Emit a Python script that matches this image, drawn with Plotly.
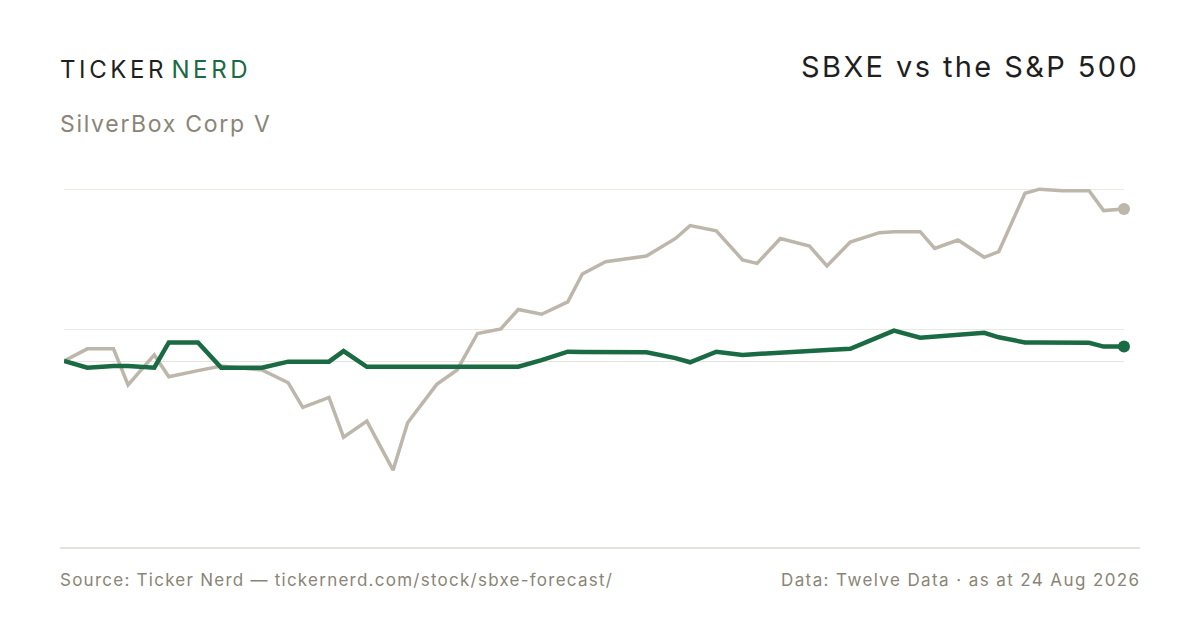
import pandas as pd
import plotly.graph_objects as go

day_offsets = [0, 8, 17, 22, 31, 36, 46, 54, 68, 77, 82, 91, 96, 104, 113, 118,
               128, 135, 142, 150, 156, 164, 173, 178, 186, 200, 210, 215, 224,
               233, 238, 246, 256, 262, 270, 280, 285, 294, 299, 307, 316, 321,
               330, 335, 343, 352, 357, 364]
start_date = "2025-08-25"

# % change since start
sbxe = [0.0, -2.1, -1.6, -1.6, -2.1, 5.8, 5.8, -2.1, -2.1, -0.2, -0.2, -0.2,
        3.1, -1.8, -1.8, -1.8, -1.8, -1.8, -1.8, -1.8, -1.8, 0.3, 2.9, 2.8,
        2.8, 2.7, 0.9, -0.4, 2.9, 1.9, 2.2, 2.5, 2.9, 3.4, 3.8, 7.8, 9.5, 7.3,
        7.6, 8.3, 8.8, 7.4, 5.8, 5.8, 5.8, 5.7, 4.5, 4.5]
spx = [0.0, 3.8, 3.8, -7.5, 1.9, -4.9, -3.0, -1.6, -2.8, -6.8, -14.5, -11.4,
       -23.8, -18.8, -34.1, -19.3, -7.3, -2.8, 8.6, 10.0, 16.1, 14.6, 18.5,
       27.2, 31.0, 32.8, 38.3, 42.3, 40.7, 31.6, 30.5, 38.3, 35.9, 29.7, 37.2,
       40.1, 40.4, 40.4, 35.2, 37.8, 32.4, 34.2, 52.4, 53.7, 53.2, 53.2, 47.0,
       47.5]

tick_vals = [10, 53.75]

GREEN = "#1a6a43"
GREY_LINE = "#bdb6aa"
TEXT_GREY = "#8a8577"
DARK = "#1f1f1f"
FONT = "Inter, Roboto, sans-serif"

dates = pd.Timestamp(start_date) + pd.to_timedelta(day_offsets, unit="D")

fig = go.Figure()
fig.add_trace(go.Scatter(x=dates, y=spx, mode="lines", name="S&P 500",
                         line=dict(color=GREY_LINE, width=3.5), hoverinfo="skip"))
fig.add_trace(go.Scatter(x=[dates[-1]], y=[spx[-1]], mode="markers", cliponaxis=False,
                         marker=dict(color=GREY_LINE, size=12), hoverinfo="skip"))
fig.add_trace(go.Scatter(x=dates, y=sbxe, mode="lines", name="SBXE",
                         line=dict(color=GREEN, width=4.5), hoverinfo="skip"))
fig.add_trace(go.Scatter(x=[dates[-1]], y=[sbxe[-1]], mode="markers", cliponaxis=False,
                         marker=dict(color=GREEN, size=12), hoverinfo="skip"))

fig.update_layout(
    width=1200, height=630,
    paper_bgcolor="white", plot_bgcolor="white",
    margin=dict(l=56, r=84, t=172, b=90),
    showlegend=False,
    font=dict(family=FONT),
    xaxis=dict(range=[dates[0], dates[-1]], showgrid=False, zeroline=False,
               showticklabels=False, showline=False, ticks=""),
    yaxis=dict(range=[-58.4375, 56.5625], tickvals=tick_vals, showgrid=True,
               gridcolor="#ece9e3", gridwidth=1, zeroline=True,
               zerolinecolor="#e6e3dc", zerolinewidth=1,
               showticklabels=False, showline=False, ticks=""),
)


def paper_y(py):
    return (548 - py) / 368


def paper_x(px):
    return (px - 64) / 1060


def spaced(text, ls):
    return f"<span style='letter-spacing:{ls}'>{text}</span>"


sp = "\u2009"
fig.add_annotation(xref="paper", yref="paper", x=paper_x(58), y=paper_y(70),
                   xanchor="left", yanchor="middle", showarrow=False,
                   text=f"<span style='color:{DARK};letter-spacing:3.6px'>TICKER</span>{sp}"
                        f"<span style='color:{GREEN};letter-spacing:3.6px'>NERD</span>",
                   font=dict(size=24, family=FONT))
fig.add_annotation(xref="paper", yref="paper", x=paper_x(58), y=paper_y(124),
                   xanchor="left", yanchor="middle", showarrow=False,
                   text=spaced("SilverBox Corp V", "1.7px"),
                   font=dict(size=23, color=TEXT_GREY, family=FONT))
fig.add_annotation(xref="paper", yref="paper", x=paper_x(1141), y=paper_y(66),
                   xanchor="right", yanchor="middle", showarrow=False,
                   text=spaced("SBXE vs the S&amp;P 500", "2.4px"),
                   font=dict(size=29, color=DARK, family=FONT))
fig.add_annotation(xref="paper", yref="paper", x=paper_x(58), y=paper_y(580),
                   xanchor="left", yanchor="middle", showarrow=False,
                   text=spaced("Source: Ticker Nerd \u2014 tickernerd.com/stock/sbxe-forecast/", "1.25px"),
                   font=dict(size=17, color=TEXT_GREY, family=FONT))
fig.add_annotation(xref="paper", yref="paper", x=paper_x(1143), y=paper_y(580),
                   xanchor="right", yanchor="middle", showarrow=False,
                   text=spaced("Data: Twelve Data \u00b7 as at 24 Aug 2026", "1.4px"),
                   font=dict(size=17, color=TEXT_GREY, family=FONT))

fig.add_shape(type="line", xref="paper", yref="paper",
              x0=paper_x(60), x1=paper_x(1140), y0=0, y1=0,
              line=dict(color="#dcd8cd", width=1.5))

fig.write_html("out.html")
